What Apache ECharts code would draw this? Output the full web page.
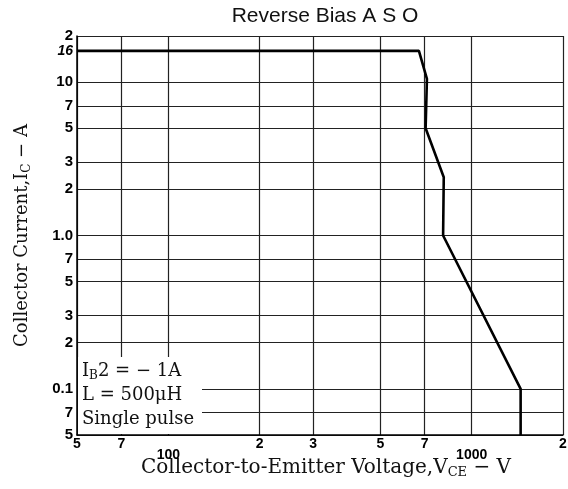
<!DOCTYPE html>
<html><head><meta charset="utf-8">
<script src="https://cdn.jsdelivr.net/npm/echarts@6/dist/echarts.min.js"></script>
<style>html,body{margin:0;padding:0;background:#fff}#c{width:568px;height:489px}</style>
</head><body><div id="c"></div>
<script>
const voltage = [50, 670, 712, 705, 809, 805, 1450, 1450];
const current = [16, 16, 10.5, 5, 2.4, 1.0, 0.1, 0.05];
const xTicks = [50, 70, 100, 200, 300, 500, 700, 1000, 2000];
const xTickLabels = ['5', '7', '100', '2', '3', '5', '7', '1000', '2'];
const yGrid = [0.05, 0.07, 0.1, 0.2, 0.3, 0.5, 0.7, 1, 2, 3, 5, 7, 10, 20];
const yTicks = [0.05, 0.07, 0.1, 0.2, 0.3, 0.5, 0.7, 1, 2, 3, 5, 7, 10, 16, 20];
const yTickLabels = ['5', '7', '0.1', '2', '3', '5', '7', '1.0', '2', '3', '5', '7', '10', '16', '2'];

const chart = echarts.init(document.getElementById('c'));
const serif = '"DejaVu Serif",serif';
const sans = '"Liberation Sans","DejaVu Sans",sans-serif';
chart.setOption({
  animation: false,
  title: {text: 'Reverse Bias A S O', left: 320, top: 1, textAlign: 'center',
    textStyle: {fontFamily: sans, fontWeight: 'normal', fontSize: 21, color: '#111'}},
  grid: {left: 77, right: 5, top: 36, bottom: 54, outerBoundsMode: 'none', containLabel: false},
  xAxis: {
    type: 'log', min: 50, max: 2000,
    name: 'Collector-to-Emitter Voltage,V{sub|CE} − V', nameLocation: 'middle', nameGap: 21, nameMoveOverlap: false,
    nameTextStyle: {fontFamily: serif, fontSize: 20, color: '#111', verticalAlign: 'top', padding: [0, 0, 0, 12],
      rich: {sub: {fontFamily: serif, fontSize: 13, color: '#111', padding: [10, 0, 0, 0]}}},
    axisLine: {show: true, lineStyle: {color: '#000', width: 1.5}},
    axisTick: {show: false, customValues: xTicks},
    axisLabel: {customValues: xTicks, margin: 2, color: '#000', fontFamily: sans, fontWeight: 'bold', fontSize: 14,
      formatter: v => { const i = xTicks.findIndex(t => Math.abs(t - v) / t < 1e-6); const s = i >= 0 ? xTickLabels[i] : '';
        return (v === 100 || v === 1000) ? '{low|' + s + '}' : s; },
      rich: {low: {fontFamily: sans, fontWeight: 'bold', fontSize: 14, color: '#000', padding: [11, 0, 0, 0]}}},
    splitLine: {show: true, lineStyle: {color: '#222', width: 1.2}}
  },
  yAxis: {
    type: 'log', min: 0.05, max: 20,
    name: 'Collector Current,I{sub|C} − A', nameLocation: 'middle', nameGap: 44, nameMoveOverlap: false,
    nameTextStyle: {fontFamily: serif, fontSize: 18, color: '#111',
      rich: {sub: {fontFamily: serif, fontSize: 12, color: '#111', padding: [9, 0, 0, 0]}}},
    axisLine: {show: true, lineStyle: {color: '#000', width: 1.5}},
    axisTick: {show: false, customValues: yGrid},
    axisLabel: {customValues: yTicks, margin: 4, color: '#000', fontFamily: sans, fontWeight: 'bold', fontSize: 15,
      formatter: v => { const i = yTicks.findIndex(t => Math.abs(t - v) / t < 1e-6); const s = i >= 0 ? yTickLabels[i] : '';
        return v === 16 ? '{it|' + s + '}' : s; },
      rich: {it: {fontFamily: sans, fontStyle: 'italic', fontSize: 14, color: '#000'}}},
    splitLine: {show: true, lineStyle: {color: '#222', width: 1.2}}
  },
  series: [{
    type: 'line', data: voltage.map((v, i) => [v, current[i]]), symbol: 'none',
    lineStyle: {color: '#000', width: 2.6}, z: 5
  }],
  graphic: [
    {type: 'rect', shape: {x: 78, y: 357, width: 124, height: 77}, style: {fill: '#fff'}, z: 10},
    {type: 'text', x: 82, y: 361, z: 11, style: {text: 'I{sub|B}2 = − 1A', font: '18px ' + serif, fill: '#111',
      rich: {sub: {font: '12px ' + serif, fill: '#111', padding: [9, 0, 0, 0]}}}},
    {type: 'text', x: 82, y: 386, z: 11, style: {text: 'L = 500μH', font: '18px ' + serif, fill: '#111'}},
    {type: 'text', x: 82, y: 410, z: 11, style: {text: 'Single pulse', font: '18px ' + serif, fill: '#111'}}
  ]
});
</script></body></html>
